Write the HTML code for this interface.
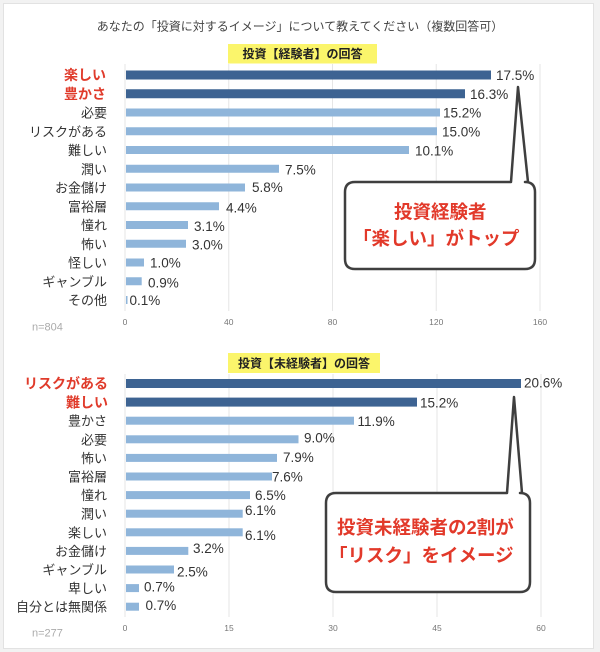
<!DOCTYPE html>
<html><head><meta charset="utf-8">
<style>
html,body{margin:0;padding:0;background:#f2f2f2;}
body{width:600px;height:652px;overflow:hidden;position:relative;}
svg{position:absolute;left:0;top:0;}
text{font-family:"Liberation Sans","Noto Sans CJK JP",sans-serif;}
</style></head><body>
<svg width="600" height="652" viewBox="0 0 600 652" xmlns="http://www.w3.org/2000/svg">
<rect x="3.5" y="3.5" width="590" height="645" fill="#ffffff" stroke="#e2e2e2" stroke-width="1"/>

<text x="300" y="30.5" font-size="12" fill="#444" text-anchor="middle">あなたの「投資に対するイメージ」について教えてください（複数回答可）</text>

<!-- ===== TOP CHART ===== -->
<rect x="228" y="44" width="149" height="19.5" fill="#fbf56b"/>
<text x="302.5" y="58" font-size="12" font-weight="bold" fill="#222" text-anchor="middle">投資【経験者】の回答</text>

<g stroke="#e6e6e6" stroke-width="1">
<line x1="125" y1="64" x2="125" y2="311"/>
<line x1="228.75" y1="64" x2="228.75" y2="311"/>
<line x1="332.5" y1="64" x2="332.5" y2="311"/>
<line x1="436.25" y1="64" x2="436.25" y2="311"/>
<line x1="540" y1="64" x2="540" y2="311"/>
</g>
<g font-size="8.5" fill="#777" text-anchor="middle">
<text x="125" y="325">0</text>
<text x="228.75" y="325">40</text>
<text x="332.5" y="325">80</text>
<text x="436.25" y="325">120</text>
<text x="540" y="325">160</text>
</g>
<text x="32" y="330.5" font-size="11" fill="#aaa">n=804</text>

<!-- bars top -->
<g fill="#3d6392">
<rect x="126" y="70.5" width="365" height="9"/>
<rect x="126" y="89.25" width="339" height="9"/>
</g>
<g fill="#8fb5da">
<rect x="126" y="108.5" width="314" height="8"/>
<rect x="126" y="127.25" width="311" height="8"/>
<rect x="126" y="146" width="283" height="8"/>
<rect x="126" y="164.75" width="153" height="8"/>
<rect x="126" y="183.5" width="119" height="8"/>
<rect x="126" y="202.25" width="93" height="8"/>
<rect x="126" y="221" width="62" height="8"/>
<rect x="126" y="239.75" width="60" height="8"/>
<rect x="126" y="258.5" width="18" height="8"/>
<rect x="126" y="277.25" width="15.7" height="8"/>
<rect x="126" y="296" width="1.5" height="8"/>
</g>

<!-- category labels top -->
<g font-size="14" font-weight="bold" fill="#e03b2b" text-anchor="end">
<text x="106" y="80">楽しい</text>
<text x="106" y="99">豊かさ</text>
</g>
<g font-size="13" fill="#333" text-anchor="end">
<text x="107" y="117.5">必要</text>
<text x="107" y="136.25">リスクがある</text>
<text x="107" y="155">難しい</text>
<text x="107" y="173.75">潤い</text>
<text x="107" y="192.5">お金儲け</text>
<text x="107" y="211.25">富裕層</text>
<text x="107" y="230">憧れ</text>
<text x="107" y="248.75">怖い</text>
<text x="107" y="267.5">怪しい</text>
<text x="107" y="286.25">ギャンブル</text>
<text x="107" y="305">その他</text>
</g>

<!-- value labels top -->
<g font-size="13.5" fill="#333">
<text x="496" y="80">17.5%</text>
<text x="470" y="99">16.3%</text>
<text x="443" y="117.5">15.2%</text>
<text x="442" y="136.5">15.0%</text>
<text x="415" y="155.5">10.1%</text>
<text x="285" y="174.5">7.5%</text>
<text x="252" y="192">5.8%</text>
<text x="226" y="212.5">4.4%</text>
<text x="194" y="231">3.1%</text>
<text x="192" y="249.5">3.0%</text>
<text x="150" y="267.5">1.0%</text>
<text x="148" y="287.5">0.9%</text>
<text x="129.5" y="305">0.1%</text>
</g>

<!-- callout top -->
<path d="M355,182 L511,182 L518,87 L528,182 L525,182 Q535,182 535,192 L535,259 Q535,269 525,269 L355,269 Q345,269 345,259 L345,192 Q345,182 355,182 Z" fill="#fff" stroke="#3f3f3f" stroke-width="2.5" stroke-linejoin="round"/>
<g font-size="18.5" font-weight="bold" fill="#e2392a">
<text x="394" y="218.5">投資経験者</text>
<text x="353" y="245">「楽しい」がトップ</text>
</g>

<!-- ===== BOTTOM CHART ===== -->
<rect x="228" y="353" width="152" height="20" fill="#fbf56b"/>
<text x="304" y="367.5" font-size="12" font-weight="bold" fill="#222" text-anchor="middle">投資【未経験者】の回答</text>

<g stroke="#e6e6e6" stroke-width="1">
<line x1="125" y1="374" x2="125" y2="617"/>
<line x1="229" y1="374" x2="229" y2="617"/>
<line x1="333" y1="374" x2="333" y2="617"/>
<line x1="437" y1="374" x2="437" y2="617"/>
<line x1="541" y1="374" x2="541" y2="617"/>
</g>
<g font-size="8.5" fill="#777" text-anchor="middle">
<text x="125" y="631">0</text>
<text x="229" y="631">15</text>
<text x="333" y="631">30</text>
<text x="437" y="631">45</text>
<text x="541" y="631">60</text>
</g>
<text x="32" y="636.5" font-size="11" fill="#aaa">n=277</text>

<g fill="#3d6392">
<rect x="126" y="379" width="395" height="9"/>
<rect x="126" y="397.6" width="291" height="9"/>
</g>
<g fill="#8fb5da">
<rect x="126" y="416.7" width="228" height="8"/>
<rect x="126" y="435.3" width="172.5" height="8"/>
<rect x="126" y="453.9" width="151" height="8"/>
<rect x="126" y="472.5" width="146" height="8"/>
<rect x="126" y="491.1" width="124" height="8"/>
<rect x="126" y="509.7" width="116.7" height="8"/>
<rect x="126" y="528.3" width="116.7" height="8"/>
<rect x="126" y="546.9" width="62.3" height="8"/>
<rect x="126" y="565.5" width="48" height="8"/>
<rect x="126" y="584.1" width="13" height="8"/>
<rect x="126" y="602.7" width="13" height="8"/>
</g>

<g font-size="14" font-weight="bold" fill="#e03b2b" text-anchor="end">
<text x="108" y="388.5">リスクがある</text>
<text x="108" y="407.5">難しい</text>
</g>
<g font-size="13" fill="#333" text-anchor="end">
<text x="107" y="425.7">豊かさ</text>
<text x="107" y="444.3">必要</text>
<text x="107" y="462.9">怖い</text>
<text x="107" y="481.5">富裕層</text>
<text x="107" y="500.1">憧れ</text>
<text x="107" y="518.7">潤い</text>
<text x="107" y="537.3">楽しい</text>
<text x="107" y="555.9">お金儲け</text>
<text x="107" y="574.5">ギャンブル</text>
<text x="107" y="593.1">卑しい</text>
<text x="107" y="611.7">自分とは無関係</text>
</g>

<g font-size="13.5" fill="#333">
<text x="524" y="387.5">20.6%</text>
<text x="420" y="407.5">15.2%</text>
<text x="357.5" y="426">11.9%</text>
<text x="304" y="442.5">9.0%</text>
<text x="283" y="462">7.9%</text>
<text x="272" y="481.5">7.6%</text>
<text x="255" y="500">6.5%</text>
<text x="245" y="515">6.1%</text>
<text x="245" y="540">6.1%</text>
<text x="193" y="553">3.2%</text>
<text x="177" y="576.5">2.5%</text>
<text x="144" y="591.5">0.7%</text>
<text x="145.5" y="610">0.7%</text>
</g>

<!-- callout bottom -->
<path d="M336,493 L507,493 L514,397 L522,493 L520,493 Q530,493 530,503 L530,582 Q530,592 520,592 L336,592 Q326,592 326,582 L326,503 Q326,493 336,493 Z" fill="#fff" stroke="#3f3f3f" stroke-width="2.5" stroke-linejoin="round"/>
<g font-size="18.5" font-weight="bold" fill="#e2392a">
<text x="337" y="534">投資未経験者の2割が</text>
<text x="329" y="562">「リスク」をイメージ</text>
</g>
</svg>
</body></html>
